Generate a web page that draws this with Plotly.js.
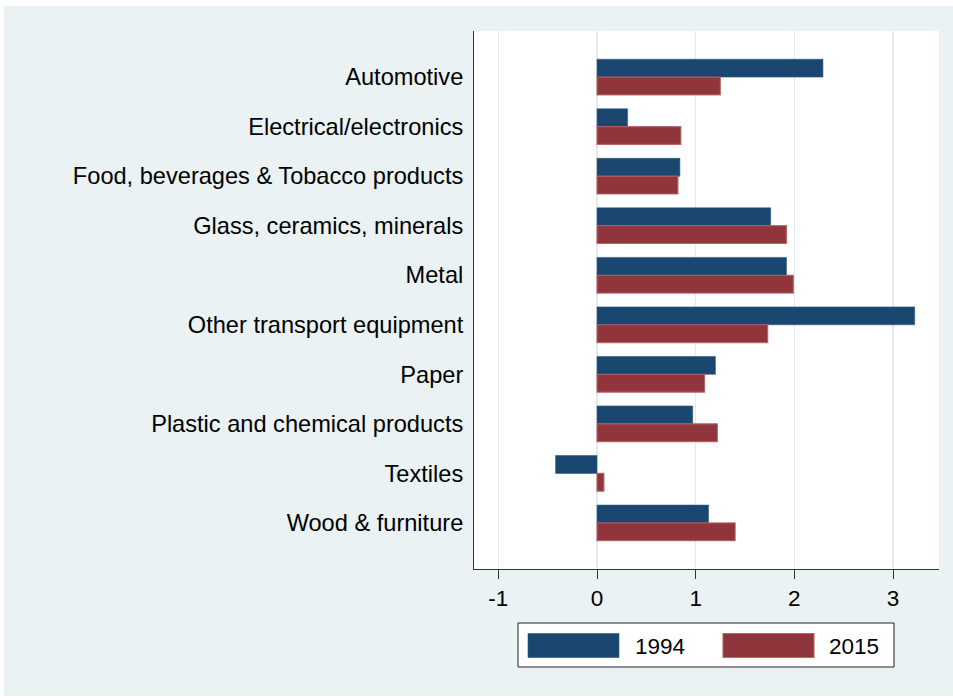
<!DOCTYPE html>
<html>
<head>
<meta charset="utf-8">
<script src="https://cdn.plot.ly/plotly-3.0.1.min.js"></script>
<style>
  html, body { margin: 0; padding: 0; background: #ffffff; }
  #chart { position: absolute; left: 4px; top: 6px; width: 949px; height: 690px; }
</style>
</head>
<body>
<div id="chart"></div>
<script>
// ---- data ----
const categories = [
  "Automotive",
  "Electrical/electronics",
  "Food, beverages & Tobacco products",
  "Glass, ceramics, minerals",
  "Metal",
  "Other transport equipment",
  "Paper",
  "Plastic and chemical products",
  "Textiles",
  "Wood & furniture"
];
const seriesNames = ["1994", "2015"];
const values1994 = [2.29, 0.31, 0.84, 1.76, 1.92, 3.22, 1.20, 0.97, -0.42, 1.13];
const values2015 = [1.25, 0.85, 0.82, 1.92, 1.99, 1.73, 1.09, 1.22, 0.07, 1.40];
const xTickVals = [-1, 0, 1, 2, 3];
const xTickText = ["-1", "0", "1", "2", "3"];

// ---- style ----
const navy = "#1a476f";
const maroon = "#90353b";
const bg = "#eaf2f3";
const fontFam = "'Liberation Sans', Arial, sans-serif";
const fs = 22.5;
const fsCat = 23.6;

const W = 949, H = 690;
const M = { l: 470, r: 14, t: 25, b: 127 };
const offX = 4, offY = 6; // div offset on page
const pw = W - M.l - M.r, ph = H - M.t - M.b;
// convert page pixel coordinates to paper coordinates
function px(x) { return (x - offX - M.l) / pw; }
function py(y) { return (H - M.b - (y - offY)) / ph; }

const traces = [
  {
    type: "bar", orientation: "h", name: seriesNames[0],
    y: categories, x: values1994,
    marker: { color: navy, line: { color: "#2f5a80", width: 0.6 } },
    showlegend: false, hoverinfo: "x+y"
  },
  {
    type: "bar", orientation: "h", name: seriesNames[1],
    y: categories, x: values2015,
    marker: { color: maroon, line: { color: "rgba(176,96,100,0.85)", width: 1.2 } },
    showlegend: false, hoverinfo: "x+y"
  }
];

// custom legend (wide swatches like the reference)
const shapes = [
  { type: "rect", xref: "paper", yref: "paper", x0: px(518), x1: px(894), y0: py(667), y1: py(623),
    line: { color: "#222", width: 1 }, fillcolor: "#ffffff", layer: "above" },
  { type: "rect", xref: "paper", yref: "paper", x0: px(528), x1: px(619), y0: py(657.5), y1: py(633.5),
    line: { color: "#2f5a80", width: 0.6 }, fillcolor: navy, layer: "above" },
  { type: "rect", xref: "paper", yref: "paper", x0: px(723), x1: px(814), y0: py(657.5), y1: py(633.5),
    line: { color: "rgba(176,96,100,0.85)", width: 1.2 }, fillcolor: maroon, layer: "above" }
];
const annotations = [
  { xref: "paper", yref: "paper", x: px(633), y: py(646), text: seriesNames[0], showarrow: false,
    xanchor: "left", yanchor: "middle", font: { family: fontFam, size: fs, color: "#000" } },
  { xref: "paper", yref: "paper", x: px(827), y: py(646), text: seriesNames[1], showarrow: false,
    xanchor: "left", yanchor: "middle", font: { family: fontFam, size: fs, color: "#000" } }
];

const layout = {
  width: W, height: H,
  margin: M,
  paper_bgcolor: bg,
  plot_bgcolor: "#ffffff",
  font: { family: fontFam, size: fs, color: "#000" },
  barmode: "group",
  bargap: 0.28,
  bargroupgap: 0,
  showlegend: false,
  xaxis: {
    range: [-1.2466, 3.466],
    tickvals: xTickVals, ticktext: xTickText,
    ticks: "outside", ticklen: 9, tickwidth: 1, tickcolor: "#333",
    showline: true, linecolor: "#333", linewidth: 1,
    showgrid: true, gridcolor: "#e3eced", gridwidth: 1.3,
    zeroline: false,
    tickfont: { family: fontFam, size: fs, color: "#000" },
    ticklabelstandoff: 0,
    fixedrange: true
  },
  yaxis: {
    type: "category",
    categoryorder: "array", categoryarray: categories,
    range: [9.93, -0.93],
    showline: true, linecolor: "#333", linewidth: 1,
    showgrid: false, zeroline: false,
    ticks: "",
    tickfont: { family: fontFam, size: fsCat, color: "#000" },
    ticklabelstandoff: 5,
    fixedrange: true
  },
  shapes: shapes,
  annotations: annotations
};

Plotly.newPlot("chart", traces, layout, { displayModeBar: false, staticPlot: true });
</script>
</body>
</html>
